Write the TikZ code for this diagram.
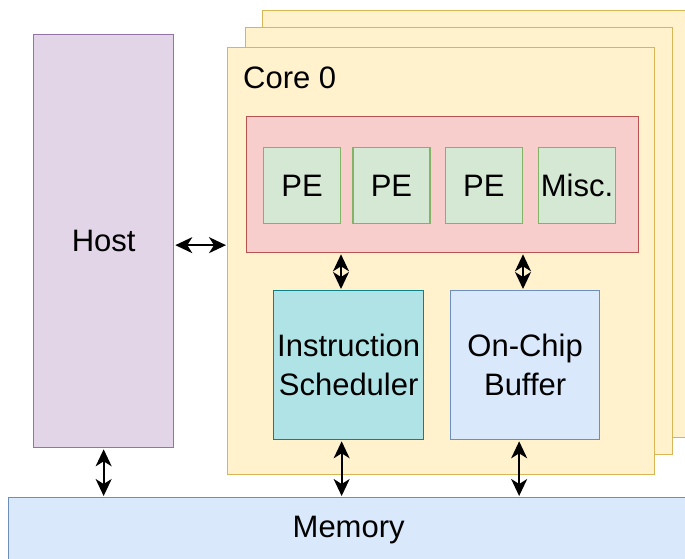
\documentclass[tikz,border=0pt]{standalone}
\usepackage{fontspec}
\setmainfont{Liberation Sans}
\usepackage{xcolor}
\usetikzlibrary{arrows.meta, positioning}

\definecolor{coreFill}{HTML}{FFF2CC}
\definecolor{coreLine}{HTML}{D6B656}
\definecolor{hostFill}{HTML}{E1D5E7}
\definecolor{hostLine}{HTML}{9673A6}
\definecolor{arrFill}{HTML}{F8CECC}
\definecolor{arrLine}{HTML}{B85450}
\definecolor{peFill}{HTML}{D5E8D4}
\definecolor{peLine}{HTML}{82B366}
\definecolor{schFill}{HTML}{B0E3E6}
\definecolor{schLine}{HTML}{0E8088}
\definecolor{bufFill}{HTML}{DAE8FC}
\definecolor{bufLine}{HTML}{6C8EBF}

\tikzset{
  box/.style={draw, rectangle, inner sep=0pt, line width=1.3pt, align=center},
  core/.style={box, anchor=north west, fill=coreFill, draw=coreLine,
    minimum width=427pt, minimum height=427pt},
  pe/.style={box, fill=peFill, draw=peLine, minimum width=77pt, minimum height=76pt},
  link/.style={{Stealth[length=17pt,width=16pt,inset=5pt]}-{Stealth[length=17pt,width=16pt,inset=5pt]},
    line width=1.8pt, shorten >=1pt, shorten <=1pt}
}

\begin{document}
\begin{tikzpicture}[x=1pt, y=-1pt, font=\fontsize{31}{39}\selectfont, node distance=14pt]
   \clip (0,0) rectangle (685,558);
   % stacked cores
   \node[core] (core_2) at (262,10) {};
   \node[core] (core_1) at (245,27) {};
   \node[core] (core_0) at (227,47) {};
   \node[anchor=base west, inner sep=0pt] (core_lbl) at (243,88) {Core 0};

   % PE array
   \node[box, anchor=north west, fill=arrFill, draw=arrLine,
     minimum width=392pt, minimum height=136pt] (pes) at (246,116) {};
   \node[pe, anchor=north west] (pe_1) at (263,147) {PE};
   \node[pe] (pe_2) [right=11pt of pe_1] {PE};
   \node[pe] (pe_3) [right=of pe_2] {PE};
   \node[pe] (misc) [right=15pt of pe_3] {Misc.};

   \node[box, anchor=north west, fill=schFill, draw=schLine,
     minimum width=150pt, minimum height=149pt] (sched) at (273,290) {Instruction\\Scheduler};
   \node[box, anchor=north west, fill=bufFill, draw=bufLine,
     minimum width=149pt, minimum height=149pt] (buf) at (450,290) {On-Chip\\Buffer};

   \node[box, anchor=north west, fill=hostFill, draw=hostLine,
     minimum width=140pt, minimum height=413pt] (host) at (33,34) {Host};
   \node[box, anchor=north west, fill=bufFill, draw=bufLine,
     minimum width=680pt, minimum height=64pt] (mem) at (8,497) {Memory};

   % links
   \draw[link] ([yshift=-4pt]host.east) -- ([yshift=-4pt]host.east -| core_0.west);
   \draw[link] (pes.south -| 341,0) -- (sched.north -| 341,0);
   \draw[link] (pes.south -| 523,0) -- (buf.north -| 523,0);
   \draw[link] (host.south) -- (host.south |- mem.north);
   \draw[link] ([xshift=-7pt]sched.south) -- ([xshift=-7pt]sched.south |- mem.north);
   \draw[link] ([xshift=-6pt]buf.south) -- ([xshift=-6pt]buf.south |- mem.north);
\end{tikzpicture}
\end{document}
